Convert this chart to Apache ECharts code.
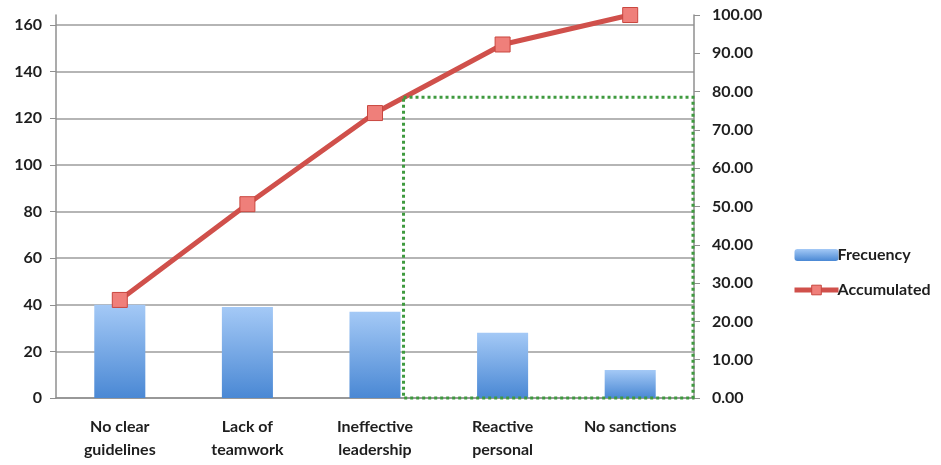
<!DOCTYPE html>
<html>
<head>
<meta charset="utf-8">
<script src="https://cdn.jsdelivr.net/npm/echarts@6/dist/echarts.min.js"></script>
<style>html,body{margin:0;padding:0;background:#fff}#c{width:941px;height:465px}</style>
</head>
<body>
<div id="c"></div>
<script>
const categories = ['No clear\nguidelines', 'Lack of\nteamwork', 'Ineffective\nleadership', 'Reactive\npersonal', 'No sanctions'];
const frequency = [40, 39, 37, 28, 12];
const accumulated = [25.6, 50.6, 74.4, 92.3, 100];
const leftTicks = { min: 0, max: 164.3, interval: 20 };
const rightTicks = { min: 0, max: 100, interval: 10 };
// highlighted (dotted) region: from category index 2 (right of bar) to end, up to left-axis value
const highlightFromIndex = 2;
const highlightTop = 129;

const FONT = 'Lato';
const TXT = '#1e1e1e';
const FW = 'bold';
const chart = echarts.init(document.getElementById('c'), null, { renderer: 'canvas' });
const option = {
  animation: false,
  backgroundColor: '#fff',
  textStyle: { fontFamily: FONT },
  grid: { left: 56, right: 247, top: 15, bottom: 67, containLabel: false },
  legend: {
    orient: 'vertical',
    left: 787,
    top: 242,
    itemGap: 19,
    itemWidth: 44,
    itemHeight: 12,
    textStyle: { fontFamily: FONT, fontSize: 16, fontWeight: FW, color: TXT, padding: [0, 0, 0, -6] },
    data: [
      { name: 'Frecuency' },
      { name: 'Accumulated', lineStyle: { width: 5 }, itemStyle: { borderWidth: 1 } }
    ]
  },
  xAxis: {
    type: 'category',
    data: categories,
    axisLine: { lineStyle: { color: '#8f8f8f', width: 1.5 } },
    axisTick: { show: false },
    axisLabel: { fontFamily: FONT, fontSize: 16, fontWeight: FW, color: TXT, lineHeight: 23, margin: 17, interval: 0 }
  },
  yAxis: [
    {
      type: 'value',
      min: leftTicks.min, max: leftTicks.max, interval: leftTicks.interval,
      axisLine: { show: true, lineStyle: { color: '#8f8f8f', width: 1.5 } },
      axisTick: { show: true, inside: false, length: 6, lineStyle: { color: '#8f8f8f' } },
      axisLabel: { fontFamily: FONT, fontSize: 16, fontWeight: FW, color: TXT, margin: 14, showMaxLabel: false,
        formatter: v => (v % 20 === 0 ? String(v) : '') },
      splitLine: { show: true, showMaxLine: false, lineStyle: { color: '#9c9c9c', width: 1.5 } }
    },
    {
      type: 'value',
      position: 'right',
      min: rightTicks.min, max: rightTicks.max, interval: rightTicks.interval,
      axisLine: { show: true, lineStyle: { color: '#8f8f8f', width: 1.5 } },
      axisTick: { show: true, inside: false, length: 6, lineStyle: { color: '#8f8f8f' } },
      axisLabel: { fontFamily: FONT, fontSize: 16, fontWeight: FW, color: TXT, margin: 18, formatter: v => v.toFixed(2) },
      splitLine: { show: false }
    }
  ],
  series: [
    {
      name: 'Frecuency',
      type: 'bar',
      yAxisIndex: 0,
      data: frequency,
      barWidth: '40%',
      itemStyle: {
        color: new echarts.graphic.LinearGradient(0, 0, 0, 1, [
          { offset: 0, color: '#a4c9f6' },
          { offset: 1, color: '#4a88d4' }
        ])
      }
    },
    {
      name: 'Accumulated',
      type: 'line',
      yAxisIndex: 1,
      data: accumulated,
      symbol: 'rect',
      symbolSize: 15,
      lineStyle: { color: '#d0504b', width: 5 },
      itemStyle: { color: '#ef7f7a', borderColor: '#c9473f', borderWidth: 1 },
      z: 5
    }
  ]
};
chart.setOption(option);

// dotted highlight rectangle derived from axes
function drawHighlight() {
  const grid = chart.getModel().getComponent('grid', 0).coordinateSystem.getRect();
  const barW = 0.4 * grid.width / categories.length;
  const cx = chart.convertToPixel({ xAxisIndex: 0 }, highlightFromIndex);
  const x0 = cx + barW / 2 + 3;
  const y0 = chart.convertToPixel({ yAxisIndex: 0 }, highlightTop);
  const y1 = chart.convertToPixel({ yAxisIndex: 0 }, 0);
  const x1 = grid.x + grid.width - 1;
  chart.setOption({
    graphic: [{
      type: 'rect',
      shape: { x: x0, y: y0, width: x1 - x0, height: y1 - y0 },
      style: { fill: 'none', stroke: '#3f9a3f', lineWidth: 3, lineDash: [3, 3] },
      z: 10
    }]
  });
}
drawHighlight();
</script>
</body>
</html>
